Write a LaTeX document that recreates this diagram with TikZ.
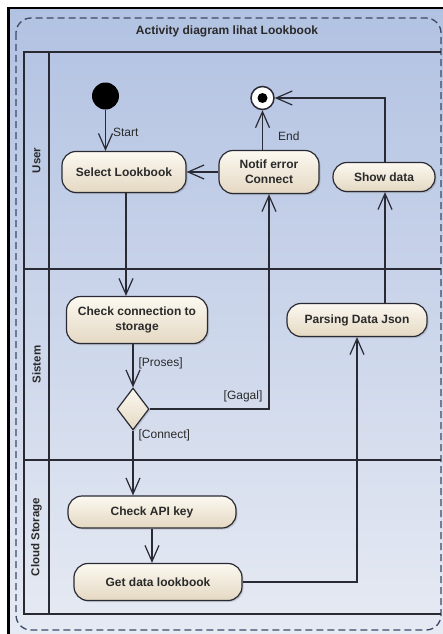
\documentclass[tikz,border=0pt]{standalone}
\usepackage{fontspec}
\setmainfont{Liberation Sans}
\usepackage{xcolor}
\definecolor{FRAMECOLOR}{HTML}{3C4A66}
\definecolor{LANETOP}{HTML}{B2C2E2}
\definecolor{LANEBOTTOM}{HTML}{E6EAF3}
\definecolor{ACTIONTOP}{HTML}{FCF9F1}
\definecolor{ACTIONBOTTOM}{HTML}{E4D8C2}
\definecolor{LINECOLOR}{HTML}{2A2A34}
\definecolor{TEXTCOLOR}{HTML}{2A2A2A}
\usepackage{tikz}
\usetikzlibrary{arrows.meta,shapes.geometric,shadows,calc}
\newcommand\actionFont{\fontsize{12}{15}\selectfont\bfseries}
\newcommand\laneFont{\fontsize{11.5}{14}\selectfont\bfseries}
\newcommand\guardFont{\fontsize{12}{14}\selectfont}
\tikzset{
  basic-style/.style = {
    draw=LINECOLOR, line width=1.2pt,
    top color=ACTIONTOP, bottom color=ACTIONBOTTOM,
    drop shadow={shadow xshift=1.5pt, shadow yshift=-1.5pt, opacity=0.3}
  },
  action-style/.style = {
    basic-style, rectangle, rounded corners=14pt,
    inner sep=2pt, align=center,
    font=\actionFont, text=TEXTCOLOR
  },
  decision-style/.style = {
    basic-style, diamond, inner sep=0pt,
    minimum width=32pt, minimum height=42pt
  },
  start-style/.style = {
    circle, fill=black, inner sep=0pt, minimum size=27pt
  },
  end-style/.style = {
    circle, draw=LINECOLOR, line width=1.5pt, fill=white,
    inner sep=0pt, minimum size=23pt,
    path picture={\fill[black] (path picture bounding box.center) circle (5pt);}
  },
  lane-style/.style = {
    rotate=90, font=\laneFont, text=TEXTCOLOR
  },
  lane-line-style/.style = {
    draw=LINECOLOR, line width=1.2pt
  },
  guard-style/.style = {
    font=\guardFont, text=TEXTCOLOR, inner sep=2pt
  },
  frame-style/.style = {
    draw=FRAMECOLOR, line width=1.3pt, dash pattern=on 7pt off 4pt,
    rounded corners=15pt
  },
  flow-style/.style = {
    draw=LINECOLOR, line width=1.2pt,
    -{Straight Barb[length=16pt,width=14pt]}
  }
}
\def\createAction name:#1 display:#2 at:#3 width:#4 height:#5;{
  \node [action-style, minimum width=#4, minimum height=#5] (#1) at #3 {#2};
}
\def\createLane name:#1 display:#2 from:#3 to:#4;{
  \draw [lane-line-style] (441,#3) -- (24,#3) -- (24,#4) -- (441,#4);
  \draw [lane-line-style] (49,#3) -- (49,#4);
  \node [lane-style] (#1) at (36.5,{(#3+#4)/2}) {#2};
}

\begin{document}
\begin{tikzpicture}[x=1pt, y=-1pt]
  \useasboundingbox (0,0) rectangle (443,634);
  % screenshot background
  \fill[black] (7,7) rectangle (443,634);
  \shade[top color=LANETOP, bottom color=LANEBOTTOM] (10,10) rectangle (443,634);
  \draw[frame-style] (16,18) rectangle (441,630);
  \node[font=\actionFont, text=TEXTCOLOR] (title) at (227,31) {Activity diagram lihat Lookbook};

  \createLane name:user display:User from:52 to:269;
  \createLane name:sistem display:Sistem from:269 to:460;
  \createLane name:cloud display:Cloud Storage from:460 to:614;

  \node[start-style] (start) at (105.5,96) {};
  \node[end-style] (end) at (262.5,98) {};
  \createAction name:select display:{Select Lookbook} at:{(124,172)} width:124pt height:41pt;
  \createAction name:notif display:{Notif error\\Connect} at:{(269,172)} width:100pt height:43pt;
  \createAction name:showdata display:{Show data} at:{(384,177)} width:102pt height:29pt;
  \createAction name:check display:{Check connection to\\storage} at:{(137,320)} width:141pt height:47pt;
  \createAction name:parsing display:{Parsing Data Json} at:{(357,320)} width:140pt height:33pt;
  \node[decision-style] (decision) at (133,409) {};
  \createAction name:api display:{Check API key} at:{(152,512)} width:168pt height:32pt;
  \createAction name:getdata display:{Get data lookbook} at:{(158,582)} width:168pt height:37pt;

  \draw[flow-style] (start) -- (start |- select.north)
    node[guard-style, right, pos=0.55, xshift=5pt] {Start};
  \draw[flow-style] (notif) -- (select);
  \draw[flow-style] (end |- notif.north) -- (end)
    node[guard-style, right, pos=0.35, xshift=13pt] {End};
  \draw[flow-style] ([xshift=1pt]showdata.north) |- (end);
  \draw[flow-style] ([xshift=2pt]select.south) -- ([xshift=2pt]select.south |- check.north);
  \draw[flow-style] (decision |- check.south) -- (decision)
    node[guard-style, right, pos=0.45, xshift=3pt] {[Proses]};
  \draw[flow-style] (decision) -| (notif)
    node[guard-style, above left, pos=0.5, xshift=-4pt, yshift=4pt] {[Gagal]};
  \draw[flow-style] (decision) -- (decision |- api.north)
    node[guard-style, right, pos=0.07, xshift=3pt] {[Connect]};
  \draw[flow-style] (api) -- (api |- getdata.north);
  \draw[flow-style] (getdata) -| (parsing);
  \draw[flow-style] ([xshift=28pt]parsing.north) -- ([xshift=28pt]parsing.north |- showdata.south);
\end{tikzpicture}
\end{document}
